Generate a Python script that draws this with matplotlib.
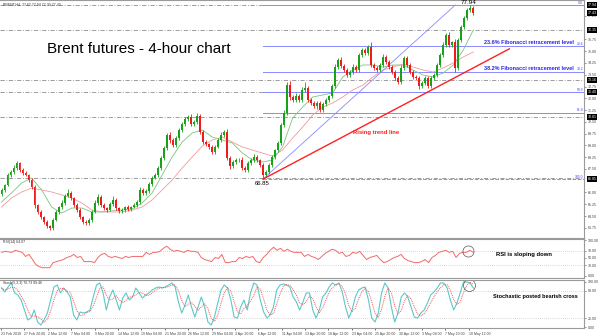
import numpy as np
import pandas as pd
import matplotlib
matplotlib.use("Agg")
import matplotlib.pyplot as plt
from matplotlib.transforms import blended_transform_factory

plt.rcParams['font.family'] = ['Liberation Sans', 'DejaVu Sans']

# ---------------- data ----------------
first_open = 65.90
close = [66.16, 66.47, 67.11, 67.30, 67.56, 67.88, 67.43, 67.24, 67.11, 66.79,
         66.35, 65.20, 64.76, 64.44, 64.12, 63.86, 63.74, 64.25, 64.76, 65.07,
         65.33, 65.77, 65.97, 65.65, 65.20, 64.88, 64.44, 64.12, 64.05, 64.25,
         64.76, 65.33, 65.71, 65.20, 65.01, 64.88, 65.27, 65.52, 65.01, 64.82,
         64.88, 65.07, 64.95, 65.07, 65.20, 65.39, 66.16, 65.97, 66.09, 66.54,
         66.92, 67.11, 67.56, 68.20, 68.83, 69.66, 69.34, 69.02, 69.47, 69.98,
         70.36, 70.68, 70.81, 70.36, 70.49, 70.87, 69.85, 69.21, 69.09, 68.90,
         68.58, 68.90, 69.34, 69.66, 69.85, 68.20, 67.69, 67.94, 68.07, 68.07,
         67.56, 67.43, 67.88, 68.07, 68.26, 68.07, 67.75, 67.11, 67.30, 67.75,
         68.26, 68.70, 69.15, 70.30, 71.06, 72.85, 72.08, 71.89, 72.14, 71.89,
         72.53, 72.65, 71.89, 71.70, 71.51, 71.70, 71.25, 71.63, 71.89, 72.14,
         72.78, 73.99, 74.44, 74.06, 73.80, 73.48, 73.67, 73.99, 73.80, 74.76,
         75.07, 74.88, 75.27, 74.12, 73.93, 73.80, 74.12, 74.63, 74.31, 73.99,
         73.67, 73.29, 73.04, 73.93, 74.57, 74.12, 73.67, 73.36, 73.29, 72.78,
         72.97, 73.29, 72.78, 73.29, 73.48, 74.12, 74.76, 75.39, 76.03, 75.39,
         75.58, 73.93, 75.71, 76.54, 77.11, 77.62, 77.75, 77.43]
wick_up = [0.12, 0.08, 0.15, 0.10, 0.20, 0.14, 0.08, 0.12, 0.10, 0.06, 0.15, 0.10, 0.08, 0.12, 0.06, 0.10, 0.08, 0.12, 0.15, 0.10,
           0.18, 0.12, 0.22, 0.10, 0.08, 0.12, 0.10, 0.06, 0.14, 0.10, 0.12, 0.16, 0.20, 0.10, 0.12, 0.08, 0.14, 0.25, 0.10, 0.08,
           0.12, 0.10, 0.15, 0.08, 0.10, 0.12, 0.18, 0.10, 0.14, 0.12, 0.10, 0.16, 0.12, 0.10, 0.15, 0.13, 0.18, 0.10, 0.12, 0.15,
           0.10, 0.14, 0.12, 0.20, 0.10, 0.19, 0.15, 0.10, 0.12, 0.08, 0.10, 0.15, 0.12, 0.18, 0.10, 0.20, 0.12, 0.15, 0.10, 0.12,
           0.16, 0.10, 0.14, 0.12, 0.20, 0.10, 0.08, 0.12, 0.15, 0.10, 0.12, 0.10, 0.15, 0.12, 0.18, 0.19, 0.25, 0.12, 0.20, 0.15,
           0.18, 0.39, 0.12, 0.10, 0.15, 0.12, 0.10, 0.14, 0.12, 0.10, 0.16, 0.20, 0.12, 0.18, 0.10, 0.15, 0.12, 0.20, 0.10, 0.14,
           0.12, 0.15, 0.12, 0.30, 0.12, 0.10, 0.14, 0.18, 0.10, 0.12, 0.15, 0.10, 0.12, 0.20, 0.15, 0.12, 0.10, 0.14, 0.12, 0.10,
           0.15, 0.12, 0.10, 0.14, 0.12, 0.10, 0.15, 0.22, 0.12, 0.20, 0.10, 0.20, 0.12, 0.15, 0.10, 0.12, 0.19, 0.10]
wick_dn = [0.10, 0.14, 0.08, 0.12, 0.10, 0.15, 0.12, 0.10, 0.08, 0.14, 0.12, 0.18, 0.10, 0.12, 0.15, 0.10, 0.10, 0.12, 0.08, 0.14,
           0.10, 0.12, 0.08, 0.15, 0.10, 0.12, 0.14, 0.10, 0.15, 0.12, 0.10, 0.08, 0.12, 0.15, 0.10, 0.12, 0.08, 0.10, 0.14, 0.12,
           0.10, 0.15, 0.12, 0.10, 0.08, 0.12, 0.10, 0.14, 0.12, 0.10, 0.15, 0.08, 0.12, 0.10, 0.14, 0.12, 0.18, 0.10, 0.12, 0.10,
           0.15, 0.12, 0.10, 0.14, 0.12, 0.10, 0.15, 0.12, 0.10, 0.14, 0.12, 0.10, 0.08, 0.12, 0.10, 0.15, 0.20, 0.10, 0.12, 0.14,
           0.12, 0.10, 0.15, 0.12, 0.10, 0.12, 0.14, 0.26, 0.12, 0.10, 0.15, 0.10, 0.12, 0.10, 0.14, 0.12, 0.20, 0.15, 0.10, 0.12,
           0.14, 0.12, 0.10, 0.15, 0.12, 0.20, 0.12, 0.10, 0.14, 0.12, 0.10, 0.15, 0.12, 0.10, 0.14, 0.12, 0.10, 0.12, 0.15, 0.10,
           0.12, 0.14, 0.10, 0.12, 0.15, 0.10, 0.12, 0.14, 0.10, 0.12, 0.10, 0.15, 0.12, 0.10, 0.14, 0.12, 0.10, 0.15, 0.12, 0.20,
           0.12, 0.12, 0.10, 0.12, 0.15, 0.10, 0.12, 0.14, 0.10, 0.15, 0.12, 0.26, 0.10, 0.12, 0.10, 0.12, 0.10, 0.12]
ma_fast = [65.39, 65.97, 66.60, 66.92, 66.16, 65.07, 64.69, 65.01, 65.01, 64.76,
           64.76, 64.82, 64.88, 64.95, 65.33, 65.97, 67.11, 68.26, 69.21, 69.79,
           69.98, 69.53, 69.34, 69.15, 68.51, 68.07, 67.94, 68.07, 68.90, 70.74,
           71.44, 72.08, 72.21, 72.34, 73.36, 73.80, 74.12, 74.12, 73.99, 74.12,
           74.12, 73.80, 73.48, 73.36, 73.61, 74.12, 75.07, 76.35]
ma_slow = [65.07, 65.65, 66.03, 66.28, 66.16, 66.03, 65.84, 65.65, 65.33, 64.88,
           64.76, 64.76, 64.76, 64.88, 65.07, 65.52, 66.16, 66.79, 67.56, 68.26,
           68.96, 69.34, 69.53, 69.21, 68.90, 68.70, 68.51, 68.32, 68.70, 69.47,
           70.17, 70.93, 71.44, 71.70, 72.08, 72.53, 72.84, 73.36, 73.80, 73.99,
           74.18, 73.99, 73.80, 73.67, 73.93, 74.25, 74.63, 74.95]
rsi = [65.7, 68.6, 67.0, 65.7, 71.4, 68.6, 65.7, 54.3, 60.0, 45.7,
       31.4, 25.7, 22.9, 22.9, 22.9, 37.1, 40.0, 43.0, 45.7, 51.4,
       54.3, 60.0, 51.4, 54.3, 40.0, 40.0, 40.0, 37.1, 51.4, 60.0,
       62.9, 54.3, 51.4, 54.3, 51.4, 48.6, 54.3, 51.4, 54.3, 54.3,
       54.3, 54.3, 65.7, 60.0, 65.7, 65.7, 68.6, 77.1, 82.9, 74.3,
       68.6, 71.4, 68.6, 65.7, 71.4, 68.6, 68.6, 65.7, 51.4, 45.7,
       42.9, 40.0, 51.4, 48.6, 60.0, 37.1, 37.1, 40.0, 40.0, 51.4,
       48.6, 54.3, 51.4, 54.3, 40.0, 37.1, 51.4, 60.0, 71.4, 80.0,
       71.4, 77.1, 68.6, 74.3, 68.6, 65.7, 65.7,
       65.7, 54.3, 60.0, 54.3, 51.4, 45.7, 54.3, 62.9, 68.6, 74.3,
       71.4, 62.9, 65.7, 54.3, 57.1, 65.7, 62.9, 68.6, 57.1, 45.7,
       51.4, 54.3, 57.1, 45.7, 37.1, 40.0, 45.7, 51.4, 54.3, 60.0,
       48.6, 42.9, 40.0, 37.1, 37.1, 40.0, 45.7, 37.1, 51.4, 57.1,
       65.7, 68.6, 71.4, 65.7, 68.6, 51.4, 62.9, 65.7, 65.7, 71.4, 65.7]
stoch_k = [86.7, 77.8, 88.9, 97.8, 75.6, 71.1, 60.0, 37.8, 15.6, 20.0,
           37.8, 11.1, 4.4, 15.6, 31.1, 60.0, 88.9, 93.3, 75.6, 86.7,
           77.8, 66.7, 26.7, 15.6, 33.3, 31.1, 33.3, 37.8, 66.7, 93.3,
           97.8, 75.6, 37.8, 66.7, 82.2, 60.0, 37.8, 64.4, 75.6, 60.0,
           66.7, 86.7, 75.6, 64.4, 71.1, 75.6, 82.2, 86.7, 88.9, 86.7,
           88.9, 93.3, 97.8, 88.9, 55.6, 31.1, 48.9, 71.1, 44.4, 22.2,
           44.4, 66.7, 44.4, 11.1, 4.4, 22.2, 53.3, 82.2, 93.3, 86.7,
           60.0, 22.2, 20.0, 44.4, 60.0, 37.8, 75.6, 97.8, 93.3, 60.0,
           33.3, 20.0, 26.7, 44.4, 82.2, 93.3, 95.6, 93.3, 88.9, 66.7,
           55.6, 37.8, 55.6, 75.6,
           75.6, 37.8, 20.0, 37.8, 66.7, 75.6, 88.9, 97.8, 93.3, 97.8,
           77.8, 44.4, 20.0, 37.8, 66.7, 82.2, 86.7, 88.9, 60.0, 20.0,
           11.1, 31.1, 75.6, 97.8, 86.7, 44.4, 11.1, 31.1, 66.7, 75.6,
           66.7, 44.4, 22.2, 20.0, 31.1, 37.8, 53.3, 71.1, 77.8, 86.7,
           97.8, 97.8, 86.7, 60.0, 37.8, 53.3, 75.6, 100.0, 100.0, 97.8, 86.7]
date_labels = ["23 Feb 2018", "27 Feb 20:00", "2 Mar 12:00", "7 Mar 04:00", "9 Mar 20:00",
               "14 Mar 12:00", "19 Mar 04:00", "21 Mar 20:00", "26 Mar 12:00", "29 Mar 04:00",
               "3 Apr 20:00", "6 Apr 12:00", "11 Apr 04:00", "13 Apr 20:00", "18 Apr 12:00",
               "23 Apr 04:00", "25 Apr 20:00", "30 Apr 12:00", "3 May 04:00", "7 May 20:00",
               "10 May 12:00"]
price_ticks = [63.75, 64.50, 65.25, 66.00, 67.50, 68.25, 69.00, 69.75, 70.50,
               71.25, 72.00, 72.75, 73.50, 74.25, 75.00, 75.75, 77.25]
swing_low = 66.85
swing_high = 77.94
fib_ratios = [0.0, 0.236, 0.382, 0.5, 0.618, 1.0]
fib_names = ["0.0", "23.6", "38.2", "50.0", "61.8", "100.0"]
sr_levels = [77.94, 76.35, 73.16, 72.40, 70.81, 66.92]
boxed_levels = [77.94, 77.43, 76.35, 73.16, 72.40, 70.81, 66.85]
trend_end = (169.0, 75.15)
channel_end = (151.0, 77.94)

# ---------------- derived ----------------
N = len(close)
xs = np.arange(N)
c = np.array(close)
o = np.concatenate([[first_open], c[:-1]])
hi = np.maximum(o, c) + np.array(wick_up)
lo = np.minimum(o, c) - np.array(wick_dn)
low_idx = 60 + int(np.argmin(lo[60:]))
high_idx = int(np.argmax(hi))
fib_levels = [swing_high - r * (swing_high - swing_low) for r in fib_ratios]

W, H = 600, 336
fig = plt.figure(figsize=(6, 3.36), dpi=100)
fig.patch.set_facecolor('white')
xr = 583.0 / 3.0 - 0.5
XL = (-0.5, xr)

ax = fig.add_axes([0, 1 - 238 / H, 584 / W, 238 / H])
axr = fig.add_axes([0, 1 - 278 / H, 584 / W, 39 / H])
axs = fig.add_axes([0, 1 - 328 / H, 584 / W, 48 / H])

for a in (ax, axr, axs):
    a.set_xlim(*XL)
    a.yaxis.tick_right()
    a.tick_params(axis='y', labelsize=2.6, length=1.5, width=0.4, pad=1, colors='#444444')
    a.tick_params(axis='x', length=0)
    a.set_xticks([])
    for s in a.spines.values():
        s.set_color('#9a9a9a')
        s.set_linewidth(0.8)
    a.spines['left'].set_visible(False)

# ---- main price panel ----
ax.set_ylim(63.10, 78.26)
ax.set_yticks(price_ticks)
ax.set_yticklabels([f"{v:.2f}" for v in price_ticks])

for lv in sr_levels:
    ax.axhline(lv, color='#8c8c8c', lw=0.6, ls=(0, (5, 2, 1, 2)), zorder=1)

for lv, nm in zip(fib_levels, fib_names):
    ax.plot([low_idx, XL[1]], [lv, lv], color='#8a8aff', lw=0.7,
            ls='--' if nm == "100.0" else '-', zorder=2)
    ax.text(XL[1] - 0.3, lv + 0.03, nm, fontsize=2.4, color='#4444ff',
            ha='right', va='bottom', zorder=5)

ax.plot(np.linspace(0, N - 1, len(ma_fast)), ma_fast, color='#7cc47c', lw=0.6, zorder=3)
ax.plot(np.linspace(0, N - 1, len(ma_slow)), ma_slow, color='#f29a9a', lw=0.6, zorder=3)

up = c >= o
col = np.where(up, '#17a317', '#ee1c1c')
ax.vlines(xs, lo, hi, colors=col, lw=0.6, zorder=4)
ax.bar(xs, np.abs(c - o) + 0.02, bottom=np.minimum(o, c), width=0.62,
       color=col, linewidth=0, zorder=5)

# trend lines
ax.plot([low_idx, channel_end[0]], [swing_low, channel_end[1]], color='#8a8aff', lw=0.6, zorder=3)
ax.plot([low_idx, trend_end[0]], [swing_low, trend_end[1]], color='#ff2020', lw=1.0, zorder=6)

ax.text(15.2, 75.14, "Brent futures - 4-hour chart", fontsize=11, color='black',
        ha='left', va='center')
ax.text(190.3, fib_levels[1] + 0.05, "23.6% Fibonacci retracement level", fontsize=4.0,
        fontweight='bold', color='#2828e6', ha='right', va='bottom', zorder=7)
ax.text(190.3, fib_levels[2] + 0.05, "38.2% Fibonacci retracement level", fontsize=4.0,
        fontweight='bold', color='#2828e6', ha='right', va='bottom', zorder=7)
ax.text(124.8, 69.79, "Rising trend line", fontsize=4.2, fontweight='bold',
        color='#ff2020', ha='center', va='center')
ax.text(low_idx - 0.3, swing_low - 0.25, f"{swing_low:.2f}", fontsize=4.3,
        color='black', ha='center', va='center')
ax.text(high_idx - 0.5, swing_high + 0.13, f"{swing_high:.2f}", fontsize=4.6,
        color='black', ha='center', va='center')
ax.text(0.5, 77.95, "BRENT,H4  77.62 77.94 77.30 77.43", fontsize=2.5,
        color='#333333', ha='left', va='center')

tr = blended_transform_factory(ax.transAxes, ax.transData)
for lv in boxed_levels:
    ax.text(1.006, lv, f"{lv:.2f}", transform=tr, fontsize=2.6, color='white',
            ha='left', va='center', clip_on=False, zorder=10,
            bbox=dict(boxstyle='square,pad=0.2', fc='black', ec='none'))

# ---- RSI panel ----
axr.set_ylim(-5.7, 102.9)
axr.set_yticks([0, 30, 50, 70, 100])
axr.set_yticklabels(["0.00", "30.00", "50.00", "70.00", "100.00"])
for lv in (30, 70):
    axr.axhline(lv, color='#b0b0b0', lw=0.5, ls=(0, (1, 2)))
axr.plot(np.linspace(0, N - 1, len(rsi)), rsi, color='#f26a6a', lw=0.7)
axr.text(0.5, 94, "RSI(14) 64.07", fontsize=2.5, color='#333333', ha='left', va='center')
axr.plot([155.2], [68.6], marker='o', ms=8, mfc='none', mec='#555555', mew=0.5)
axr.text(164.5, 60, "RSI is sloping down", fontsize=4.2, fontweight='bold',
         color='black', ha='left', va='center')

# ---- Stochastic panel ----
axs.set_ylim(-2.2, 104.4)
axs.set_yticks([0, 20, 80, 100])
axs.set_yticklabels(["0.00", "20.00", "80.00", "100.00"])
for lv in (20, 80):
    axs.axhline(lv, color='#b0b0b0', lw=0.5, ls=(0, (1, 2)))
sx = np.linspace(0, N - 1, len(stoch_k))
k = pd.Series(stoch_k)
d = k.rolling(3, min_periods=1).mean()
axs.plot(sx, k, color='#5cc8c8', lw=0.8)
axs.plot(sx, d, color='#f05a5a', lw=0.7, ls=(0, (1, 1)))
axs.text(0.5, 98, "Stoch(5,3,3) 76.73 89.46", fontsize=2.5, color='#333333',
         ha='left', va='center')
axs.plot([155.5], [93.3], marker='o', ms=8.6, mfc='none', mec='#555555', mew=0.5)
axs.text(163.6, 66.7, "Stochastic posted bearish cross", fontsize=4.0, fontweight='bold',
         color='black', ha='left', va='center')

# date labels
tick_pos = np.linspace(-0.17, 155.5, len(date_labels))
axs.set_xticks(tick_pos)
axs.set_xticklabels(date_labels, fontsize=2.5, color='#444444', ha='left')
axs.tick_params(axis='x', length=1.5, width=0.4, pad=1.2)

fig.savefig("out.png", dpi=100, facecolor='white')
